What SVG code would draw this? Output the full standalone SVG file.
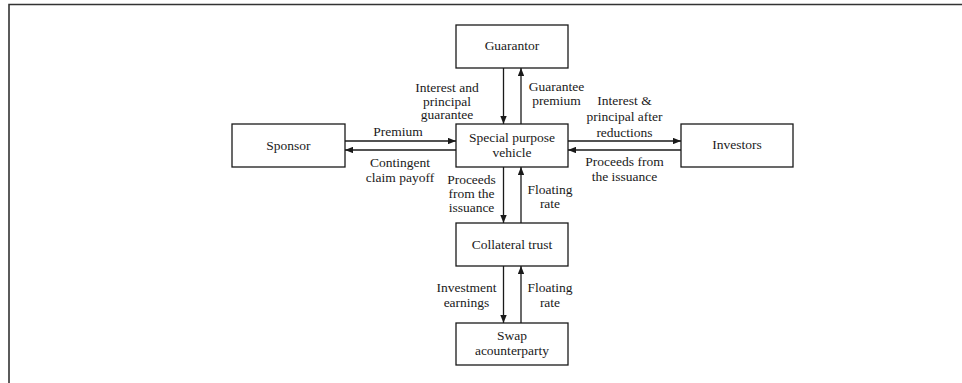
<svg xmlns="http://www.w3.org/2000/svg" width="962" height="383" viewBox="0 0 962 383">
<defs>
<marker id="ah" viewBox="0 0 10 8" refX="10" refY="4" markerWidth="8" markerHeight="6.4" markerUnits="userSpaceOnUse" orient="auto">
<path d="M0,0 L10,4 L0,8 Z" fill="#1a1a1a"/>
</marker>
<style>
.box{fill:#fff;stroke:#1a1a1a;stroke-width:1.3}
.t{font-family:"Liberation Serif","Times New Roman",Times,serif;font-size:13.5px;fill:#1a1a1a;text-anchor:middle}
.c{stroke:#1a1a1a;stroke-width:1.3;fill:none;marker-end:url(#ah)}
.frame{stroke:#333;stroke-width:1.6;fill:none}
</style>
</defs>
<rect width="962" height="383" fill="#fff"/>
<path class="frame" d="M9,383 V4.5 H962"/>

<g id="guarantor"><rect class="box" x="456" y="25" width="112" height="43"/><text class="t" x="512" y="50">Guarantor</text></g>
<g id="spv"><rect class="box" x="456" y="124" width="112" height="43"/><text class="t" x="512" y="141.5">Special purpose</text><text class="t" x="512" y="156.5">vehicle</text></g>
<g id="sponsor"><rect class="box" x="232" y="124" width="113" height="43"/><text class="t" x="288.5" y="149.5">Sponsor</text></g>
<g id="investors"><rect class="box" x="681" y="124" width="112" height="43"/><text class="t" x="737" y="149">Investors</text></g>
<g id="collateral"><rect class="box" x="456" y="223" width="112" height="43"/><text class="t" x="512" y="248.5">Collateral trust</text></g>
<g id="swap"><rect class="box" x="456" y="323" width="112" height="42"/><text class="t" x="512" y="340">Swap</text><text class="t" x="512" y="354.5">acounterparty</text></g>

<g id="connectors">
<line class="c" x1="503.5" y1="68" x2="503.5" y2="124"/>
<line class="c" x1="521" y1="124" x2="521" y2="68"/>
<line class="c" x1="345" y1="141" x2="456" y2="141"/>
<line class="c" x1="456" y1="150" x2="345" y2="150"/>
<line class="c" x1="568" y1="141" x2="681" y2="141"/>
<line class="c" x1="681" y1="150" x2="568" y2="150"/>
<line class="c" x1="503.5" y1="167" x2="503.5" y2="223"/>
<line class="c" x1="521" y1="223" x2="521" y2="167"/>
<line class="c" x1="503.5" y1="266" x2="503.5" y2="323"/>
<line class="c" x1="521" y1="323" x2="521" y2="266"/>
</g>

<g id="labels">
<text class="t" x="447" y="92">Interest and</text>
<text class="t" x="447" y="105.5">principal</text>
<text class="t" x="447" y="119">guarantee</text>
<text class="t" x="556.5" y="91">Guarantee</text>
<text class="t" x="556.5" y="105">premium</text>
<text class="t" x="624.5" y="105">Interest &amp;</text>
<text class="t" x="624.5" y="121">principal after</text>
<text class="t" x="624.5" y="136.5">reductions</text>
<text class="t" x="398" y="136">Premium</text>
<text class="t" x="400" y="166.5">Contingent</text>
<text class="t" x="400" y="182">claim payoff</text>
<text class="t" x="624.5" y="166">Proceeds from</text>
<text class="t" x="624.5" y="181">the issuance</text>
<text class="t" x="471.5" y="183.5">Proceeds</text>
<text class="t" x="471.5" y="197.5">from the</text>
<text class="t" x="471.5" y="211.5">issuance</text>
<text class="t" x="550" y="194">Floating</text>
<text class="t" x="550" y="208">rate</text>
<text class="t" x="466.5" y="292">Investment</text>
<text class="t" x="466.5" y="306.5">earnings</text>
<text class="t" x="550" y="292">Floating</text>
<text class="t" x="550" y="306.5">rate</text>
</g>
</svg>
